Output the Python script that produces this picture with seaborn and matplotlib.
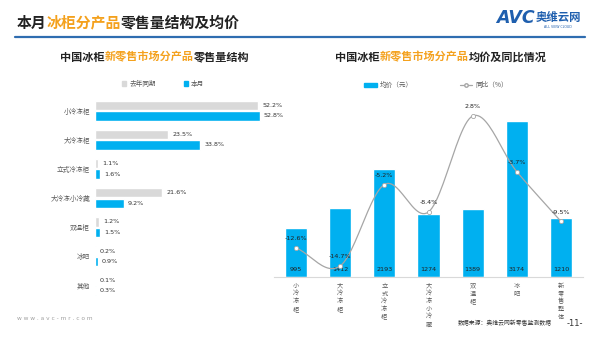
import numpy as np
import pandas as pd
import matplotlib
matplotlib.use('Agg')
import matplotlib.pyplot as plt
import seaborn as sns
from matplotlib.patches import Patch
from matplotlib.lines import Line2D

# ---------------- data ----------------
share_cats = ['小冷冻柜', '大冷冻柜', '立式冷冻柜', '大冷冻小冷藏', '双温柜', '冰吧', '其他']
share_last = [52.2, 23.5, 1.1, 21.6, 1.2, 0.2, 0.1]
share_now = [52.8, 33.8, 1.6, 9.2, 1.5, 0.9, 0.3]
periods = ['去年同期', '本月']

price_cats = ['小冷冻柜', '大冷冻柜', '立式冷冻柜', '大冷冻小冷藏', '双温柜', '冰吧', '新零售整体']
price = [995, 1412, 2193, 1274, 1389, 3174, 1210]
yoy = [-12.6, -14.7, -5.2, -8.4, 2.8, -3.7, -9.5]

BLUE = '#00B0F0'
GRAY = '#D9D9D9'
LINE = '#A6A6A6'
ORANGE = '#F4A11D'
TXT = '#595959'

sns.set_theme(style='white')
plt.rcParams['font.family'] = ['Noto Sans CJK SC', 'DejaVu Sans']
plt.rcParams['axes.unicode_minus'] = False

W, H = 600, 338
fig = plt.figure(figsize=(6, 3.38), dpi=100)
fig.patch.set_facecolor('white')


def fx(px):
    return px / W


def fy(py):
    return 1 - py / H


def colored_text(x, y, parts, size, weight='bold', ha='left'):
    r = fig.canvas.get_renderer()
    texts = [fig.text(0, fy(y), s, color=c, fontsize=size, fontweight=weight, va='center')
             for s, c in parts]
    widths = [t.get_window_extent(r).width for t in texts]
    total = sum(widths)
    start = x - (total / 2 if ha == 'center' else 0)
    for t, w in zip(texts, widths):
        t.set_x(fx(start))
        start += w


# ---------------- header ----------------
colored_text(17, 22.5, [('本月', '#222222'), ('冰柜分产品', ORANGE), ('零售量结构及均价', '#222222')], 10.7)
fig.add_artist(Line2D([fx(15), fx(585)], [fy(37), fy(37)], color='#2F6DB0', lw=1.6))
fig.text(fx(496), fy(18), 'AVC', color='#1F5FAE', fontsize=12.5, fontweight='bold',
         fontstyle='italic', va='center', ha='left', family='DejaVu Sans')
fig.text(fx(536), fy(17), '奥维云网', color='#1F5FAE', fontsize=8.2, fontweight='bold', va='center')
fig.text(fx(558), fy(26.5), 'ALL VIEW CLOUD', color='#1F5FAE', fontsize=2.3, va='center', ha='center',
         family='DejaVu Sans')

colored_text(155, 57, [('中国冰柜', '#222222'), ('新零售市场分产品', ORANGE), ('零售量结构', '#222222')],
             8, ha='center')
colored_text(441, 57, [('中国冰柜', '#222222'), ('新零售市场分产品', ORANGE), ('均价及同比情况', '#222222')],
             8, ha='center')

# ---------------- right chart (drawn first, transparent background) ----------------
ax2 = fig.add_axes([fx(274), fy(277), fx(309), 177 / H])
ax2.patch.set_visible(False)
sns.barplot(x=price_cats, y=price, color=BLUE, width=0.5, saturation=1, ax=ax2)
ax2.set_ylim(0, 3605)
ax2.set_xlim(-0.5, 6.5)
ax2.set_yticks([])
for k, s in ax2.spines.items():
    s.set_visible(k == 'bottom')
ax2.spines['bottom'].set_color('#D9D9D9')
ax2.spines['bottom'].set_linewidth(0.8)
ax2.set_xticks(range(len(price_cats)))
ax2.set_xticklabels(['\n'.join(c) for c in price_cats], fontsize=4.5, color=TXT,
                    linespacing=0.95, va='top')
ax2.tick_params(axis='x', length=0, pad=3.5)
for i, v in enumerate(price):
    ax2.text(i, 0.04, str(v), transform=ax2.get_xaxis_transform(), ha='center', va='center',
             fontsize=4.6, color='#222222', family='DejaVu Sans')


def catmull_rom(x, y, n=24):
    P = np.column_stack([x, y]).astype(float)
    P = np.vstack([2 * P[0] - P[1], P, 2 * P[-1] - P[-2]])
    out = []
    t = np.linspace(0, 1, n, endpoint=False)[:, None]
    for i in range(1, len(P) - 2):
        p0, p1, p2, p3 = P[i - 1], P[i], P[i + 1], P[i + 2]
        seg = 0.5 * ((2 * p1) + (-p0 + p2) * t + (2 * p0 - 5 * p1 + 4 * p2 - p3) * t ** 2
                     + (-p0 + 3 * p1 - 3 * p2 + p3) * t ** 3)
        out.append(seg)
    out.append(P[-2][None, :])
    return np.vstack(out)


ax3 = ax2.twinx()
ax3.patch.set_visible(False)
xs = np.arange(len(yoy))
curve = catmull_rom(xs, yoy)
ax3.plot(curve[:, 0], curve[:, 1], color=LINE, lw=0.9, zorder=3)
sns.scatterplot(x=xs, y=yoy, ax=ax3, s=9, color='white', edgecolor=LINE, linewidth=0.6, zorder=4)
ax3.set_ylim(-16, 4.67)
ax3.set_xlim(-0.5, 6.5)
ax3.set_yticks([])
for s in ax3.spines.values():
    s.set_visible(False)
for i, v in enumerate(yoy):
    ax3.annotate(f'{v}%', (i, v), xytext=(0, 6.5), textcoords='offset points', ha='center',
                 va='center', fontsize=4.6, color='#222222', family='DejaVu Sans')

fig.legend(handles=[Patch(color=BLUE),
                    Line2D([], [], color=LINE, lw=0.9, marker='o', markersize=2.5,
                           markerfacecolor='white', markeredgecolor=LINE)],
           labels=['均价（元）', '同比（%）'], loc='center', bbox_to_anchor=(fx(436), fy(85)),
           ncol=2, frameon=False, fontsize=4.8, handlelength=1.9, handleheight=0.6,
           columnspacing=7, handletextpad=0.4, labelcolor=TXT)

# ---------------- left chart ----------------
df_share = pd.DataFrame({
    'cat': share_cats * 2,
    'period': [periods[0]] * len(share_cats) + [periods[1]] * len(share_cats),
    'value': share_last + share_now,
})
ax1 = fig.add_axes([fx(95), fy(300), fx(234), 204 / H])
ax1.patch.set_visible(False)
sns.barplot(data=df_share, y='cat', x='value', hue='period', hue_order=periods,
            palette=[GRAY, BLUE], orient='h', width=0.72, gap=0.1, legend=False,
            saturation=1, ax=ax1)
ax1.set_xlim(0, 75)
ax1.set_xlabel('')
ax1.set_ylabel('')
ax1.set_xticks([])
for s in ax1.spines.values():
    s.set_visible(False)
ax1.tick_params(axis='y', length=0, pad=3.5, labelsize=4.8, labelcolor=TXT)
for cont, vals in zip(ax1.containers, [share_last, share_now]):
    ax1.bar_label(cont, labels=[f'{v:.1f}%' for v in vals], padding=3, fontsize=4.6,
                  color='#333333', family='DejaVu Sans')

fig.legend(handles=[Patch(color=GRAY), Patch(color=BLUE)], labels=periods,
           loc='center', bbox_to_anchor=(fx(163), fy(84)), ncol=2, frameon=False,
           fontsize=4.8, handlelength=0.7, handleheight=0.7, columnspacing=4.2,
           handletextpad=0.4, labelcolor=TXT)

# ---------------- footer ----------------
fig.text(fx(17), fy(319), 'w w w . a v c - m r . c o m', color='#A0A0A0', fontsize=4.2,
         va='center', family='DejaVu Sans')
fig.text(fx(458), fy(323), '数据来源：奥维云网新零售监测数据', color='#333333', fontsize=4.2, va='center')
fig.text(fx(567), fy(323), '-11-', color='#333333', fontsize=6, va='center', family='DejaVu Sans')

fig.savefig('out.png', dpi=100)
